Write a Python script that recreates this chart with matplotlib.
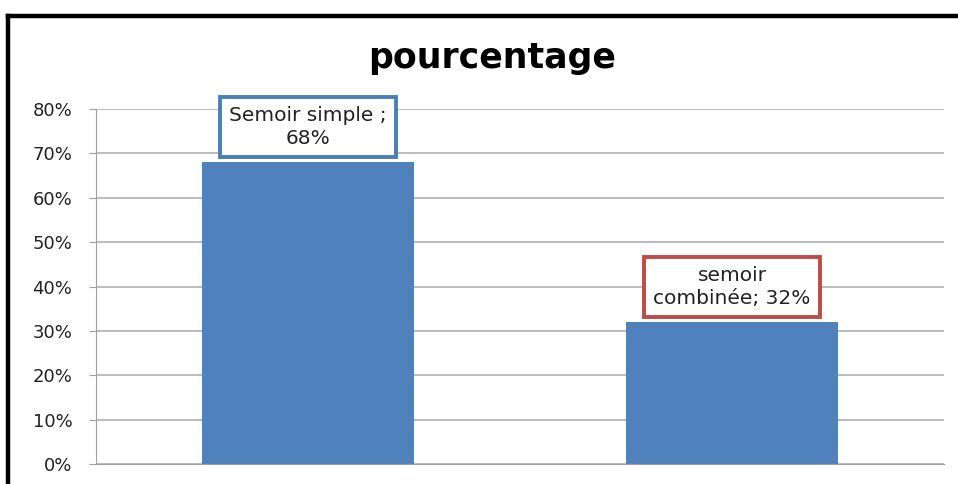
import matplotlib.pyplot as plt
from matplotlib.lines import Line2D
from matplotlib.ticker import PercentFormatter

categories = ["Semoir simple", "semoir combinée"]
values = [0.68, 0.32]
labels = ["Semoir simple ;\n68%", "semoir\ncombinée; 32%"]
box_colors = ["#4a7ebb", "#be4b48"]
yticks = [0, 0.1, 0.2, 0.3, 0.4, 0.5, 0.6, 0.7, 0.8]

plt.rcParams['font.family'] = ['DejaVu Sans']

W, H = 958, 484
fig = plt.figure(figsize=(W / 100, H / 100), dpi=100)
ax = fig.add_axes([96 / W, 1 - 464 / H, (944 - 96) / W, (464 - 109) / H])

x = range(len(categories))
ax.bar(x, values, width=0.5, color="#4f81bd", zorder=2)
ax.set_xlim(-0.5, 1.5)
ax.set_ylim(0, 0.8)
ax.set_yticks(yticks)
ax.yaxis.set_major_formatter(PercentFormatter(1.0, decimals=0))
ax.set_xticks([])
ax.grid(axis="y", color="#b0b0b0", linewidth=1.2, zorder=0)
for s in ["top", "right"]:
    ax.spines[s].set_visible(False)
ax.spines["left"].set_color("#a0a0a0")
ax.spines["bottom"].set_color("#a0a0a0")
ax.tick_params(axis="y", length=5, color="#a0a0a0", labelsize=13, pad=12,
               labelcolor="#222222")

for i, (v, lab, c) in enumerate(zip(values, labels, box_colors)):
    ax.annotate(lab, xy=(i, v), xytext=(0, 10), textcoords="offset points",
                ha="center", va="bottom", fontsize=14.5, linespacing=1.3,
                color="#222222",
                bbox=dict(boxstyle="square,pad=0.45", fc="white", ec=c, lw=2.8),
                zorder=3)

fig.text(492 / W, 1 - 58 / H, "pourcentage", ha="center", va="center",
         fontsize=25, fontweight="bold")

# outer frame lines
fig.add_artist(Line2D([8 / W, 8 / W], [0, 1 - 16 / H], color="black", lw=3.2))
fig.add_artist(Line2D([8 / W, 1], [1 - 16 / H, 1 - 16 / H], color="black", lw=3.2))

fig.savefig("out.png", dpi=100)
